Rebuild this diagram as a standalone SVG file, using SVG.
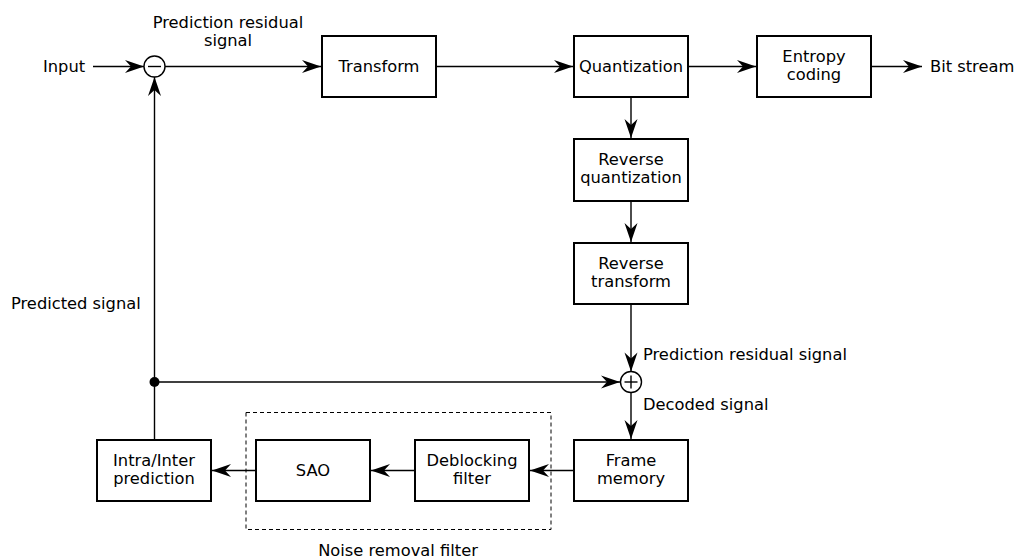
<svg xmlns="http://www.w3.org/2000/svg" width="1017" height="559" viewBox="0 0 1017 559">
<defs>
<style>
text{font-family:"DejaVu Sans","Liberation Sans",sans-serif;font-size:16.3px;fill:#000}
.c{text-anchor:middle}
.box{fill:#fff;stroke:#000;stroke-width:2}
.ln{fill:none;stroke:#000;stroke-width:1.4}
.arr{marker-end:url(#ah)}
</style>
<marker id="ah" markerUnits="userSpaceOnUse" markerWidth="22" markerHeight="16" viewBox="-20 -8 21 16" refX="0" refY="0" orient="auto">
<path d="M0,0 L-19,-6.5 L-13,0 L-19,6.5 Z" fill="#000"/>
</marker>
</defs>
<g id="connectors">
<line class="ln arr" x1="93" y1="66.5" x2="144" y2="66.5"/>
<line class="ln arr" x1="165" y1="66.5" x2="321" y2="66.5"/>
<line class="ln arr" x1="436" y1="66.5" x2="573" y2="66.5"/>
<line class="ln arr" x1="688" y1="66.5" x2="756" y2="66.5"/>
<line class="ln arr" x1="871" y1="66.5" x2="922" y2="66.5"/>
<line class="ln arr" x1="631" y1="97" x2="631" y2="138"/>
<line class="ln arr" x1="631" y1="201" x2="631" y2="242"/>
<line class="ln arr" x1="631" y1="304" x2="631" y2="371.5"/>
<line class="ln arr" x1="631" y1="392.5" x2="631" y2="439"/>
<line class="ln arr" x1="574" y1="470.5" x2="530" y2="470.5"/>
<line class="ln arr" x1="415" y1="470.5" x2="371" y2="470.5"/>
<line class="ln arr" x1="256" y1="470.5" x2="212" y2="470.5"/>
<line class="ln arr" x1="154.5" y1="440" x2="154.5" y2="77"/>
<line class="ln arr" x1="154.5" y1="382" x2="620" y2="382"/>
<circle cx="154.5" cy="382" r="5" fill="#000"/>
</g>
<g id="noise-filter">
<rect x="246" y="412.5" width="305" height="117" fill="none" stroke="#000" stroke-width="1" stroke-dasharray="4,3"/>
<text class="c" x="398" y="556">Noise removal filter</text>
</g>
<g id="input"><text x="43" y="72">Input</text></g>
<g id="minus">
<circle cx="154.5" cy="66.5" r="10.5" fill="#fff" stroke="#000" stroke-width="1.4"/>
<line x1="148" y1="66.5" x2="161" y2="66.5" stroke="#000" stroke-width="1.4"/>
</g>
<g id="lbl-residual1">
<text class="c" x="228" y="28">Prediction residual</text>
<text class="c" x="228" y="46">signal</text>
</g>
<g id="transform"><rect class="box" x="322" y="36" width="114" height="61"/><text class="c" x="379" y="72">Transform</text></g>
<g id="quantization"><rect class="box" x="574" y="36" width="114" height="61"/><text class="c" x="631" y="72">Quantization</text></g>
<g id="entropy"><rect class="box" x="757" y="36" width="114" height="61"/><text class="c" x="814" y="62">Entropy</text><text class="c" x="814" y="80">coding</text></g>
<g id="bitstream"><text x="930" y="72">Bit stream</text></g>
<g id="rev-quant"><rect class="box" x="574" y="139" width="114" height="62"/><text class="c" x="631" y="165">Reverse</text><text class="c" x="631" y="183">quantization</text></g>
<g id="rev-transform"><rect class="box" x="574" y="243" width="114" height="61"/><text class="c" x="631" y="269">Reverse</text><text class="c" x="631" y="287">transform</text></g>
<g id="plus">
<circle cx="631" cy="382" r="10.5" fill="#fff" stroke="#000" stroke-width="1.4"/>
<line x1="624.5" y1="382" x2="637.5" y2="382" stroke="#000" stroke-width="1.4"/>
<line x1="631" y1="375.5" x2="631" y2="388.5" stroke="#000" stroke-width="1.4"/>
</g>
<g id="lbl-residual2"><text x="643" y="360">Prediction residual signal</text></g>
<g id="lbl-decoded"><text x="643" y="410">Decoded signal</text></g>
<g id="lbl-predicted"><text x="11" y="309">Predicted signal</text></g>
<g id="frame-memory"><rect class="box" x="574" y="440" width="114" height="61"/><text class="c" x="631" y="466">Frame</text><text class="c" x="631" y="484">memory</text></g>
<g id="deblocking"><rect class="box" x="415" y="440" width="114" height="61"/><text class="c" x="472" y="466">Deblocking</text><text class="c" x="472" y="484">filter</text></g>
<g id="sao"><rect class="box" x="256" y="440" width="114" height="61"/><text class="c" x="313" y="476">SAO</text></g>
<g id="intra-inter"><rect class="box" x="97" y="440" width="114" height="61"/><text class="c" x="154" y="466">Intra/Inter</text><text class="c" x="154" y="484">prediction</text></g>
</svg>
